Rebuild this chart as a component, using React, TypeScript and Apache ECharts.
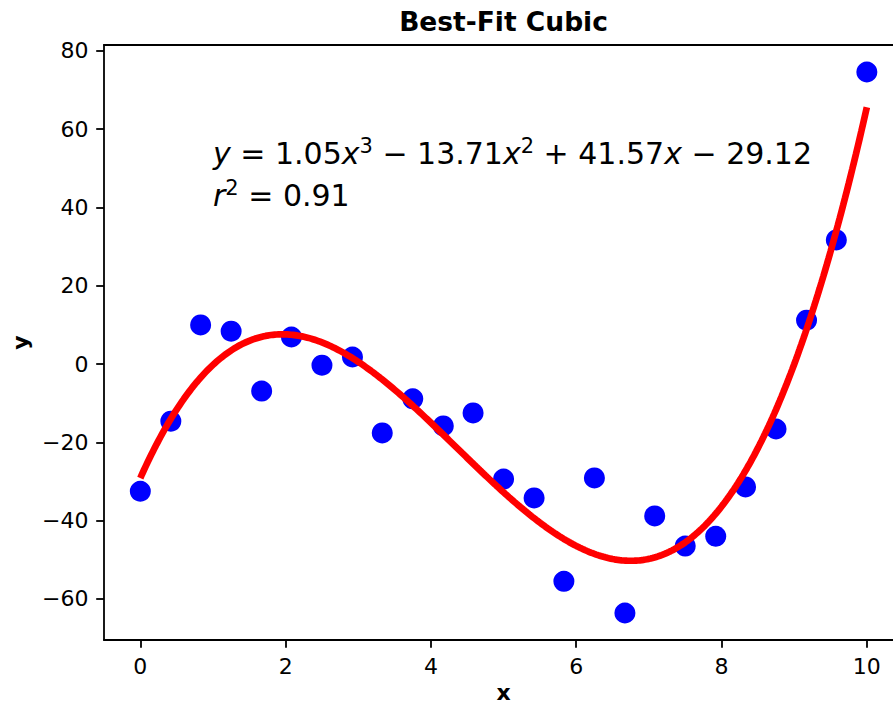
import React, { useEffect, useRef } from "react";
import * as echarts from "echarts";

// Observed samples
const xValues = [
  0, 0.42, 0.83, 1.25, 1.67, 2.08, 2.5, 2.92, 3.33, 3.75, 4.17, 4.58, 5,
  5.42, 5.83, 6.25, 6.67, 7.08, 7.5, 7.92, 8.33, 8.75, 9.17, 9.58, 10,
];
const yValues = [
  -32.5, -14.6, 10.0, 8.4, -6.9, 6.9, -0.3, 1.8, -17.6, -8.9, -15.8, -12.5,
  -29.4, -34.2, -55.5, -29.1, -63.6, -38.8, -46.5, -44.0, -31.4, -16.6, 11.2,
  31.7, 74.6,
];

// Fitted cubic: a*x^3 + b*x^2 + c*x + d
const coefficients = [1.05, -13.71, 41.57, -29.12];
const rSquared = 0.91;

const xTicks = [0, 2, 4, 6, 8, 10];
const yTicks = [-60, -40, -20, 0, 20, 40, 60, 80];

const FONT = "DejaVu Sans";

function cubicAt(x: number) {
  const [a, b, c, d] = coefficients;
  return a * x * x * x + b * x * x + c * x + d;
}

function fmt(v: number) {
  return Math.abs(v).toFixed(2);
}

export default function App() {
  const ref = useRef<HTMLDivElement>(null);

  useEffect(() => {
    document.body.style.margin = "0";
    const chart = echarts.init(ref.current!, null, { renderer: "svg" });

    const scatterData = xValues.map((x, i) => [x, yValues[i]]);
    const curveData: number[][] = [];
    for (let i = 0; i <= 400; i++) {
      const x = (i / 400) * 10;
      curveData.push([x, cubicAt(x)]);
    }

    const [a, b, c, d] = coefficients;
    const sign = (v: number) => (v < 0 ? " \u2212 " : " + ");
    const eqLine =
      "{i|y} = " +
      a.toFixed(2) +
      "{i|x}{sup|3}" +
      sign(b) +
      fmt(b) +
      "{i|x}{sup|2}" +
      sign(c) +
      fmt(c) +
      "{i|x}" +
      sign(d) +
      fmt(d);
    const r2Line = "{i|r}{sup|2} = " + rSquared.toFixed(2);

    const rich = {
      i: { fontStyle: "italic", fontSize: 30, fontFamily: FONT, lineHeight: 36, color: "#000" },
      sup: { fontSize: 21, fontFamily: FONT, lineHeight: 22, verticalAlign: "top", color: "#000" },
    };

    const spine = { show: true, onZero: false, lineStyle: { color: "#000", width: 1.8 } };

    chart.setOption({
      animation: false,
      backgroundColor: "#fff",
      textStyle: { fontFamily: FONT },
      grid: {
        left: 104,
        top: 45,
        right: 0,
        height: 595,
        show: false,
      },
      xAxis: [
        {
          type: "value",
          min: -0.5,
          max: 10.36,
          splitLine: { show: false },
          axisLine: spine,
          axisTick: {
            show: true,
            customValues: xTicks,
            length: 7.8,
            lineStyle: { color: "#000", width: 1.8 },
          },
          axisLabel: {
            customValues: xTicks,
            margin: 15.6,
            fontSize: 22,
            color: "#000",
            fontFamily: FONT,
          },
        },
        {
          // top spine only
          type: "value",
          position: "top",
          min: -0.5,
          max: 10.36,
          splitLine: { show: false },
          axisLine: spine,
          axisTick: { show: false },
          axisLabel: { show: false },
        },
      ],
      yAxis: {
        type: "value",
        min: -70.5,
        max: 81.5,
        splitLine: { show: false },
        axisLine: spine,
        axisTick: {
          show: true,
          customValues: yTicks,
          length: 7.8,
          lineStyle: { color: "#000", width: 1.8 },
        },
        axisLabel: {
          customValues: yTicks,
          margin: 15.6,
          fontSize: 22,
          color: "#000",
          fontFamily: FONT,
          formatter: (v: number) => (v < 0 ? "\u2212" + Math.abs(v) : String(v)),
        },
      },
      series: [
        {
          type: "scatter",
          data: scatterData,
          symbol: "circle",
          symbolSize: 21,
          itemStyle: { color: "#0000ff", opacity: 1 },
          z: 2,
        },
        {
          type: "line",
          data: curveData,
          showSymbol: false,
          symbol: "none",
          lineStyle: { color: "#ff0000", width: 6.7 },
          z: 3,
        },
      ],
      graphic: [
        {
          type: "text",
          x: 503.5,
          y: 21,
          z: 10,
          style: {
            text: "Best-Fit Cubic",
            fontFamily: FONT,
            fontWeight: "bold",
            fontSize: 26.5,
            fill: "#000",
            align: "center",
            verticalAlign: "middle",
          },
        },
        {
          type: "text",
          x: 503.5,
          y: 692,
          z: 10,
          style: {
            text: "x",
            fontFamily: FONT,
            fontWeight: "bold",
            fontSize: 22,
            fill: "#000",
            align: "center",
            verticalAlign: "middle",
          },
        },
        {
          type: "text",
          x: 20,
          y: 342.5,
          rotation: Math.PI / 2,
          z: 10,
          style: {
            text: "y",
            fontFamily: FONT,
            fontWeight: "bold",
            fontSize: 22,
            fill: "#000",
            align: "center",
            verticalAlign: "middle",
          },
        },
        {
          type: "text",
          x: 213,
          y: 153,
          z: 10,
          style: {
            text: eqLine,
            rich,
            fontFamily: FONT,
            fontSize: 30,
            lineHeight: 36,
            fill: "#000",
            align: "left",
            verticalAlign: "middle",
          },
        },
        {
          type: "text",
          x: 213,
          y: 195,
          z: 10,
          style: {
            text: r2Line,
            rich,
            fontFamily: FONT,
            fontSize: 30,
            lineHeight: 36,
            fill: "#000",
            align: "left",
            verticalAlign: "middle",
          },
        },
      ],
    });

    return () => chart.dispose();
  }, []);

  return (
    <div
      ref={ref}
      style={{ position: "absolute", left: 0, top: 0, width: 893, height: 705 }}
    />
  );
}
